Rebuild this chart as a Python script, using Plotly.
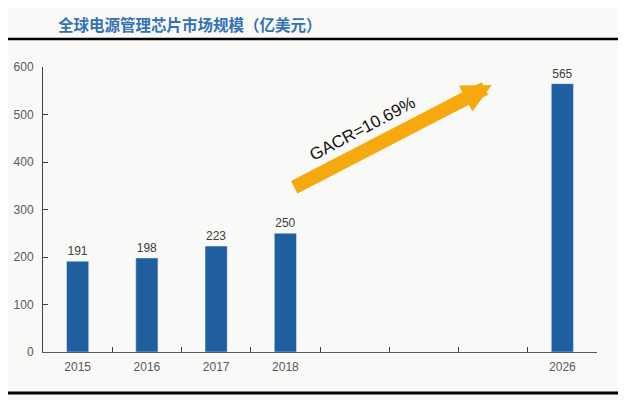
import plotly.graph_objects as go

# categories (blank slots between 2018 and 2026 keep the gap on the axis)
years = ["2015", "2016", "2017", "2018", " ", "  ", "   ", "2026"]
market_size = [191, 198, 223, 250, None, None, None, 565]
bar_labels = ["191", "198", "223", "250", "", "", "", "565"]
y_ticks = [0, 100, 200, 300, 400, 500, 600]
title_text = "全球电源管理芯片市场规模（亿美元）"
cagr_text = "GACR=10.69%"

bars = go.Bar(x=years, y=market_size, text=bar_labels, textposition="outside",
              textfont=dict(size=12, color="#404040", family="Liberation Sans"),
              marker=dict(color="#1F5FA0"), width=0.32, cliponaxis=False)

# page body has an 8px margin, so the figure is a bit smaller than the window
layout = go.Layout(
    width=618, height=392,
    margin=dict(l=35, r=29, t=59, b=48),
    paper_bgcolor="#f9f9f8", plot_bgcolor="#f9f9f8",
    showlegend=False,
    font=dict(family="Liberation Sans", size=12, color="#595959"),
    xaxis=dict(type="category", tickson="boundaries", ticks="inside", ticklen=5,
               tickcolor="#404040", showline=True, linecolor="#595959", linewidth=1,
               showgrid=False, ticklabelstandoff=4, automargin=False,
               tickfont=dict(size=12, color="#595959")),
    yaxis=dict(range=[0, 600], tickvals=y_ticks, ticks="inside", ticklen=5,
               tickcolor="#404040", showline=True, linecolor="#404040", linewidth=1,
               showgrid=False, zeroline=False, ticklabelstandoff=6, automargin=False,
               tickfont=dict(size=12, color="#595959")),
)

fig = go.Figure(data=[bars], layout=layout)

# title and the two rules
fig.add_annotation(text="<b>" + title_text + "</b>", xref="paper", yref="paper",
                   x=0.0235, y=1.151, xanchor="left", yanchor="middle", showarrow=False,
                   font=dict(family="Noto Sans CJK SC", size=15.5, color="#3272B5"))
fig.add_shape(type="line", xref="paper", yref="paper", x0=-0.07, x1=1.049,
              y0=1.098, y1=1.098, line=dict(color="black", width=2.5))
fig.add_shape(type="line", xref="paper", yref="paper", x0=-0.07, x1=1.049,
              y0=-0.144, y1=-0.144, line=dict(color="black", width=3))

# growth arrow
fig.add_annotation(x=5.98, y=562, ax=-199, ay=103, text="", showarrow=True,
                   arrowhead=2, arrowsize=0.42, arrowwidth=14, arrowcolor="#F5A90F",
                   standoff=0)
fig.add_annotation(x=4.12, y=471, text=cagr_text, showarrow=False, textangle=-28,
                   font=dict(family="Liberation Sans", size=17, color="#111111"))

fig.write_html("out.html")
